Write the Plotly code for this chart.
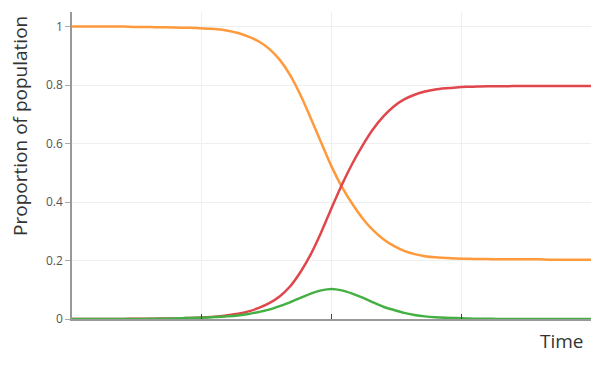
import plotly.graph_objects as go

time = list(range(0, 101, 2))

susceptible = [1.0, 1.0, 1.0, 1.0, 1.0, 1.0, 0.999, 0.999, 0.998, 0.998,
               0.997, 0.996, 0.995, 0.993, 0.991, 0.986, 0.978, 0.966, 0.949, 0.924,
               0.887, 0.835, 0.767, 0.687, 0.604, 0.522, 0.452, 0.394, 0.344, 0.304,
               0.273, 0.25, 0.233, 0.222, 0.215, 0.211, 0.209, 0.207, 0.206, 0.205,
               0.205, 0.204, 0.204, 0.204, 0.204, 0.204, 0.203, 0.203, 0.203, 0.203, 0.203]

infected = [0.0, 0.0, 0.0, 0.0, 0.0, 0.0, 0.0, 0.0, 0.001, 0.001,
            0.002, 0.003, 0.004, 0.005, 0.007, 0.009, 0.012, 0.017, 0.024, 0.032,
            0.044, 0.057, 0.072, 0.087, 0.098, 0.103, 0.098, 0.087, 0.073, 0.057,
            0.042, 0.031, 0.021, 0.014, 0.009, 0.006, 0.004, 0.003, 0.002, 0.001,
            0.001, 0.0, 0.0, 0.0, 0.0, 0.0, 0.0, 0.0, 0.0, 0.0, 0.0]

recovered = [0.0, 0.0, 0.0, 0.0, 0.0, 0.0, 0.001, 0.001, 0.001, 0.002,
             0.002, 0.003, 0.004, 0.006, 0.009, 0.013, 0.018, 0.026, 0.038, 0.054,
             0.077, 0.111, 0.16, 0.221, 0.296, 0.379, 0.459, 0.531, 0.594, 0.649,
             0.693, 0.727, 0.751, 0.767, 0.778, 0.785, 0.789, 0.792, 0.794, 0.795,
             0.796, 0.796, 0.796, 0.797, 0.797, 0.797, 0.797, 0.797, 0.797, 0.797, 0.797]

y_ticks = [0, 0.2, 0.4, 0.6, 0.8, 1]
y_tick_labels = ["0", "0.2", "0.4", "0.6", "0.8", "1"]
x_ticks = [25, 50, 75]

fig = go.Figure()
fig.add_trace(go.Scatter(x=time, y=susceptible, mode="lines", name="Susceptible",
                         line=dict(color="#FF9A3C", width=2.5, shape="spline", smoothing=0.8)))
fig.add_trace(go.Scatter(x=time, y=recovered, mode="lines", name="Recovered",
                         line=dict(color="#E0474C", width=2.5, shape="spline", smoothing=0.8)))
fig.add_trace(go.Scatter(x=time, y=infected, mode="lines", name="Infected",
                         line=dict(color="#44B044", width=2.5, shape="spline", smoothing=0.8)))

# The page body adds an 8px margin; the figure is sized so the page fits 599x368.
fig.update_layout(
    width=583, height=352,
    margin=dict(l=64, r=0, t=4, b=41, autoexpand=False),
    paper_bgcolor="white", plot_bgcolor="white",
    showlegend=False,
    font=dict(family="Open Sans, Noto Sans, sans-serif", color="#333"),
    xaxis=dict(range=[0, 100], tickvals=x_ticks, ticktext=["", "", ""],
               ticks="inside", ticklen=5, tickwidth=1, tickcolor="#444",
               showgrid=True, gridcolor="#efefef", gridwidth=1,
               showline=True, linecolor="#999", linewidth=1.5, zeroline=False),
    yaxis=dict(range=[0, 1.05], tickvals=y_ticks, ticktext=y_tick_labels,
               ticks="outside", ticklen=5, tickwidth=1, tickcolor="#aaa",
               tickfont=dict(size=12, color="#555"),
               showgrid=True, gridcolor="#efefef", gridwidth=1,
               showline=True, linecolor="#999", linewidth=1.5, zeroline=False),
    annotations=[
        dict(text="Time", xref="paper", yref="paper", x=1.0, y=0,
             xanchor="right", yanchor="top", xshift=-5, yshift=-7,
             showarrow=False, font=dict(size=19, color="#333")),
        dict(text="Proportion of population", xref="paper", yref="paper",
             x=0, y=0.629, xanchor="center", yanchor="middle", xshift=-52,
             textangle=-90, showarrow=False, font=dict(size=19, color="#333")),
    ],
)

fig.write_html("out.html")
